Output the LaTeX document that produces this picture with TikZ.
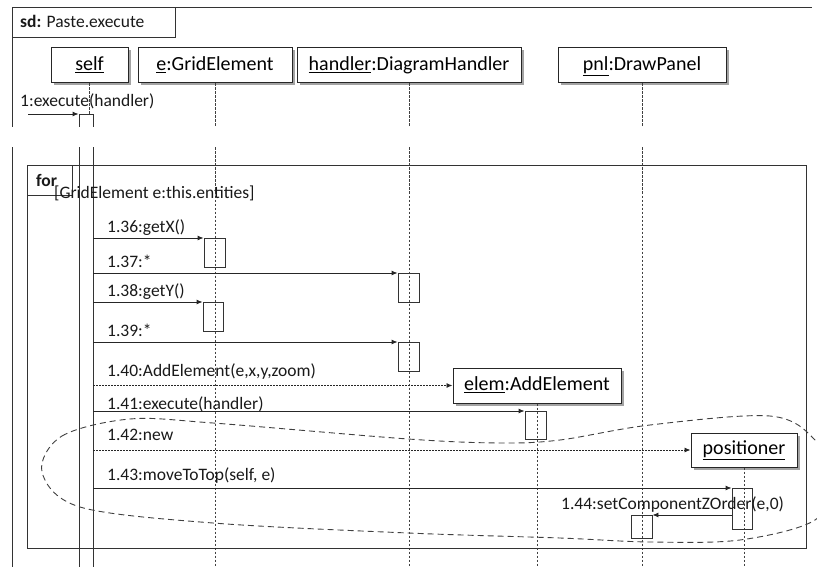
\documentclass[tikz,border=0pt]{standalone}
\usepackage{fontspec}
\setmainfont{Carlito}
\usetikzlibrary{arrows.meta,shadows}

\begin{document}
\begin{tikzpicture}[x=1pt,y=-1pt,
  line/.style={draw=black!80, line width=0.9pt},
  head/.style={draw=black!85, line width=1pt, fill=white, minimum height=35pt,
    inner sep=0pt, text height=13.5pt, text depth=4pt, font=\fontsize{20}{24}\selectfont,
    drop shadow={shadow xshift=2.5pt, shadow yshift=-2.5pt, fill=black!45, opacity=0.8}},
  act/.style={draw=black!80, line width=0.9pt, minimum width=20pt, inner sep=0pt, anchor=north},
  life/.style={draw=black!75, line width=0.9pt, dash pattern=on 2.5pt off 1.5pt},
  msg/.style={draw=black!85, line width=0.9pt, -{Latex[length=6pt,width=5pt]}},
  create/.style={msg, dash pattern=on 1.5pt off 1.5pt},
  lbl/.style={anchor=base west, inner sep=0pt, font=\fontsize{17.5}{21}\selectfont, text=black!90},
  region/.style={draw=black!75, line width=0.9pt, dash pattern=on 6pt off 4pt},
]
\useasboundingbox (0,0) rectangle (817,567);
\coordinate (bot) at (0,570);

% outer sd frame
\draw[line] (12,570) -- (12,7) -- (812,7);
\draw[line] (12,37) -- (175,37) -- (175,7);
\node[lbl] (sdlbl) at (20,28) {\textbf{sd:} Paste.execute};

% lifeline heads
\node[head, minimum width=77pt]  (self) at (89.5,65.5) {\underline{self}};
\node[head, minimum width=154pt] (e)    at (215,65.5)  {\underline{e}:GridElement};
\node[head, minimum width=224pt] (h)    at (409,65.5)  {\underline{handler}:DiagramHandler};
\node[head, minimum width=168pt] (pnl)  at (642,65.5)  {\underline{pnl}:DrawPanel};

% activation of self
\node[act, minimum width=14pt, minimum height=470pt] (sa) at (86,114) {};

% lifelines
\draw[life] (self.south) -- (self.south |- sa.north);
\draw[life] (e.south) -- (e.south |- bot);
\draw[life] (h.south) -- (h.south |- bot);
\draw[life] (pnl.south) -- (pnl.south |- bot);

% loop fragment
\draw[line] (27,165) rectangle (806,548);
\draw[line] (27,195) -- (72,195) -- (72,165);

% gap across the diagram
\fill[white] (0,127) rectangle (817,147);

% entry message
\coordinate (start) at (28,114);
\draw[msg] (start) -- (sa.north west);
\node[lbl] (m1) at (20,107) {1:execute(handler)};

\node[lbl, font=\bfseries\fontsize{17.5}{21}\selectfont] (forlbl) at (36,186.5) {for};
\node[lbl] (guard) at (54,199) {[GridElement e:this.entities]};

% activations on the callee side
\node[act, minimum width=21pt, minimum height=29pt] (a36) at (214.5,238) {};
\node[act, minimum width=21pt, minimum height=29pt] (a37) at (408.5,273) {};
\node[act, minimum width=20pt, minimum height=29pt] (a38) at (213,302) {};
\node[act, minimum width=21pt, minimum height=29pt] (a39) at (408.5,342) {};

\draw[msg] (a36.north west -| sa.east) -- (a36.north west);
\draw[msg] (a37.north west -| sa.east) -- (a37.north west);
\draw[msg] (a38.north west -| sa.east) -- (a38.north west);
\draw[msg] (a39.north west -| sa.east) -- (a39.north west);
\node[lbl] (l36) at (107,233) {1.36:getX()};
\node[lbl] (l37) at (107,267) {1.37:*};
\node[lbl] (l38) at (107,296.5) {1.38:getY()};
\node[lbl] (l39) at (107,336) {1.39:*};

% created objects
\node[head, minimum width=168pt] (elem) at (537,385.5) {\underline{elem}:AddElement};
\node[head, minimum width=106pt, minimum height=34pt] (pos) at (744,450) {\underline{positioner}};
\draw[life] (elem.south) -- (elem.south |- bot);
\draw[life] (pos.south) -- (pos.south |- bot);

\node[act, minimum width=21pt, minimum height=28pt] (a41) at (535.5,411) {};
\node[act, minimum width=20pt, minimum height=41pt] (a43) at (742,488) {};
\node[act, minimum width=21pt, minimum height=23pt] (a44) at (641.5,515) {};

\draw[create] (sa.east |- elem.west) -- (elem.west);
\draw[msg] (a41.north west -| sa.east) -- (a41.north west);
\draw[create] (sa.east |- pos.west) -- (pos.west);
\draw[msg] (a43.north west -| sa.east) -- (a43.north west);
\draw[msg] (a43.west |- a44.north east) -- (a44.north east);

\node[lbl] (l40) at (107,376.5) {1.40:AddElement(e,x,y,zoom)};
\node[lbl] (l41) at (107,409) {1.41:execute(handler)};
\node[lbl] (l42) at (107,440) {1.42:new};
\node[lbl] (l43) at (107,480) {1.43:moveToTop(self, e)};
\node[lbl] (l44) at (561,509) {1.44:setComponentZOrder(e,0)};

% highlighted group of messages
\draw[region] plot[smooth cycle, tension=0.55] coordinates {
  (42,472) (62,436) (130,419) (213,423) (408,439) (500,443) (560,440)
  (650,425) (770,416) (815,440) (832,480) (815,520) (740,540) (650,542)
  (560,538) (408,533) (213,523) (80,507)};
\end{tikzpicture}
\end{document}
